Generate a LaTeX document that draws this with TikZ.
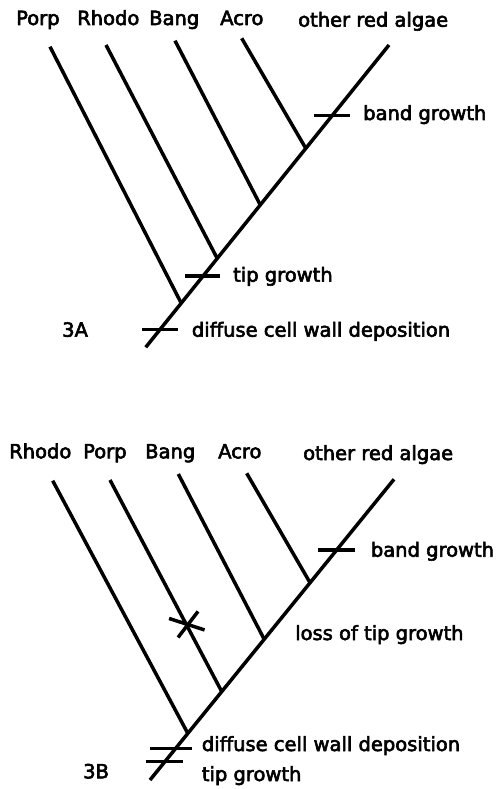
\documentclass[tikz,border=0pt]{standalone}
\usepackage{fontspec}
\setmainfont{DejaVu Sans}[BoldFont=DejaVu Sans,BoldFeatures={FakeBold=3}]
\usetikzlibrary{calc}

\begin{document}
\begin{tikzpicture}[x=1pt,y=-1pt,font=\fontsize{19.5}{23}\selectfont\bfseries,
   br/.style={line width=3.5pt},
   lb/.style={anchor=base west,inner sep=0pt}]
  \useasboundingbox (0,0) rectangle (499,789);
  % 3A
  \coordinate (a0) at (145.7,347.3);
  \coordinate (a1) at (389,45);
  \draw[br] (a0)--(a1);
  \foreach \nm/\lx/\tx/\ty/\t in {Porp/16/50/46.7/0.146, Rhodo/77/106/45/0.294,
      Bang/149/175/40.7/0.471, Acro/220/241.7/38.3/0.658}{
    \node[lb] (aL\nm) at (\lx,25) {\nm};
    \coordinate (aT\nm) at (\tx,\ty);
    \coordinate (aJ\nm) at ($(a0)!\t!(a1)$);
    \draw[br] (aT\nm)--(aJ\nm);
  }
  \node[lb] (aOther) at (298,26.7) {other red algae};
  \coordinate (aBand) at ($(a0)!0.766!(a1)$);
  \coordinate (aTip) at ($(a0)!0.236!(a1)$);
  \coordinate (aDiff) at ($(a0)!0.0595!(a1)$);
  \draw[br] ([xshift=-18pt]aBand)--([xshift=18pt]aBand);
  \draw[br] ([xshift=-18pt]aTip)--([xshift=17pt]aTip);
  \draw[br] ([xshift=-18pt]aDiff)--([xshift=18pt]aDiff);
  \node[lb] (aBandL) at (363,120) {band growth};
  \node[lb] (aTipL) at (233,281.7) {tip growth};
  \node[lb] (aDiffL) at (191.7,336.7) {diffuse cell wall deposition};
  \node[lb] (aTag) at (62,336.7) {3A};
  % 3B
  \coordinate (b0) at (150,780);
  \coordinate (b1) at (394,479.3);
  \draw[br] (b0)--(b1);
  \foreach \nm/\lx/\tx/\ty/\t in {Rhodo/9/52.7/480.7/0.155, Porp/83/110/480/0.294,
      Bang/145/178.3/474/0.468, Acro/218/246.7/473.3/0.656}{
    \node[lb] (bL\nm) at (\lx,458.3) {\nm};
    \coordinate (bT\nm) at (\tx,\ty);
    \coordinate (bJ\nm) at ($(b0)!\t!(b1)$);
    \draw[br] (bT\nm)--(bJ\nm);
  }
  \node[lb] (bOther) at (303,460) {other red algae};
  % loss of tip growth on Porp
  \coordinate (bLoss) at ($(bTPorp)!0.685!(bJPorp)$);
  \draw[br] ($(bLoss)+(-17.5,-6.5)$)--($(bLoss)+(18,5)$);
  \draw[br] ($(bLoss)+(-8.5,12.5)$)--($(bLoss)+(11.5,-13.5)$);
  \coordinate (bBand) at ($(b0)!0.765!(b1)$);
  \coordinate (bDiff) at ($(b0)!0.105!(b1)$);
  \coordinate (bTip) at ($(b0)!0.061!(b1)$);
  \draw[br] ([xshift=-19pt]bBand)--([xshift=18pt]bBand);
  \draw[br] ([xshift=-26pt]bDiff)--([xshift=16pt]bDiff);
  \draw[br] ([xshift=-19pt]bTip)--([xshift=18pt]bTip);
  \node[lb] (bBandL) at (370.7,556.7) {band growth};
  \node[lb] (bLossL) at (295,640) {loss of tip growth};
  \node[lb] (bDiffL) at (201.7,751) {diffuse cell wall deposition};
  \node[lb] (bTipL) at (201.7,781) {tip growth};
  \node[lb] (bTag) at (83,778.3) {3B};
\end{tikzpicture}
\end{document}
